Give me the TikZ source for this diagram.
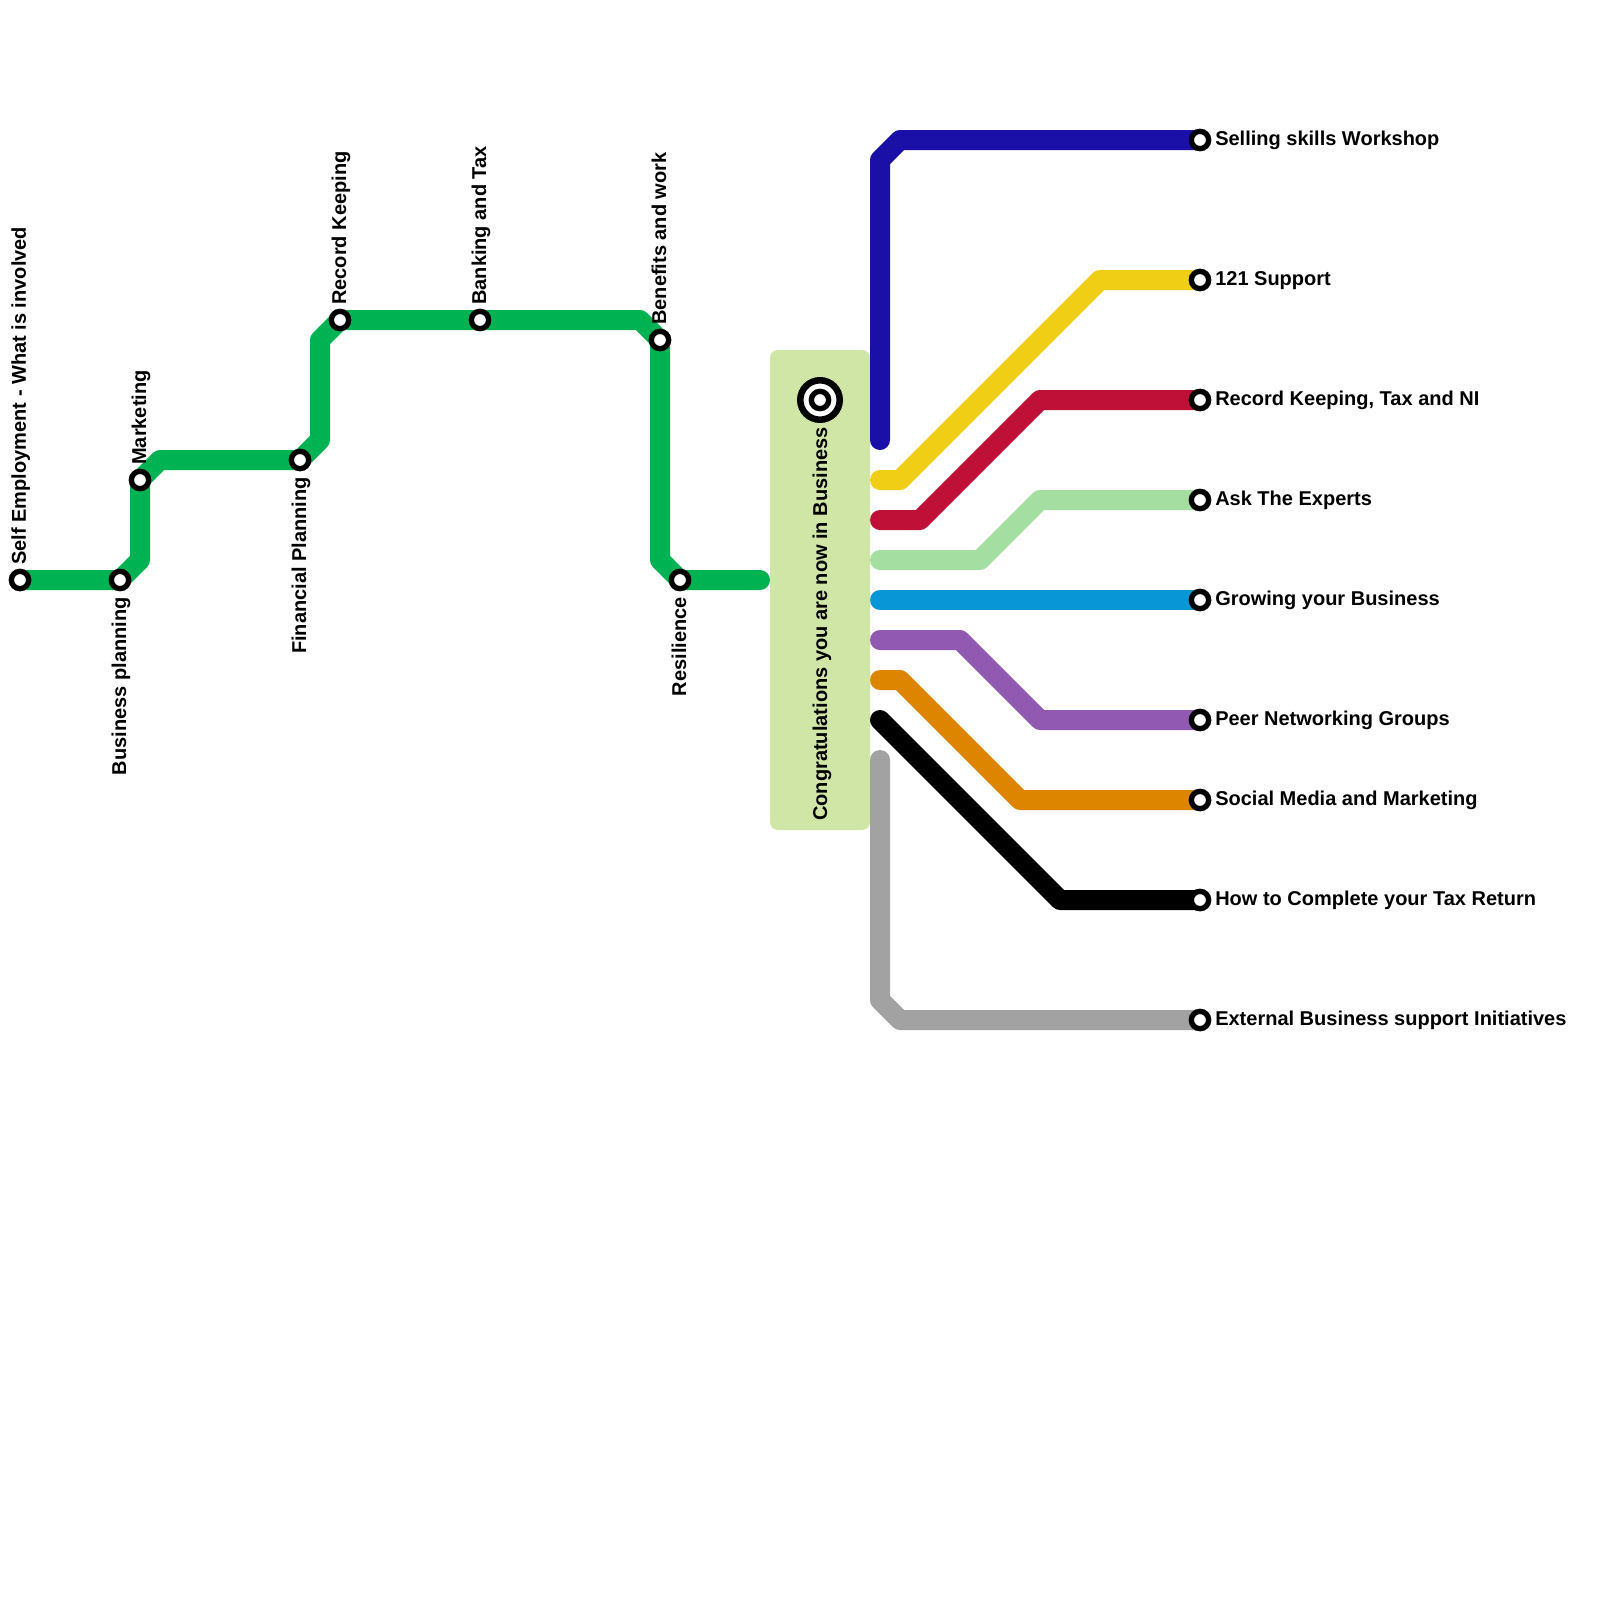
\documentclass[tikz,border=0pt]{standalone}
\usepackage{fontspec}
\setmainfont{Liberation Sans}
\definecolor{lnGreen}{HTML}{00B251}
\definecolor{lnBlue}{HTML}{1A10A8}
\definecolor{lnYellow}{HTML}{F0CE15}
\definecolor{lnRed}{HTML}{BF1038}
\definecolor{lnMint}{HTML}{A5DEA1}
\definecolor{lnCyan}{HTML}{0996D7}
\definecolor{lnPurple}{HTML}{9159B1}
\definecolor{lnOrange}{HTML}{DE8500}
\definecolor{lnGrey}{HTML}{A2A2A2}
\definecolor{boxGreen}{HTML}{D0E6A6}
\begin{document}
\begin{tikzpicture}[x=0.75pt,y=0.75pt,yscale=-1,xscale=1,
		route/.style={line width=15pt, line cap=round, line join=round},
		stn/.style={circle, draw=black, fill=white, line width=4pt, minimum size=13pt, inner sep=0pt},
		lbl/.style={inner sep=0pt, font=\bfseries\fontsize{15}{18}\selectfont}]
				\useasboundingbox (0,0) rectangle (1600,1600);
				% stations
				\coordinate (se) at (20,580);
				\coordinate (bp) at (120,580);
				\coordinate (mk) at (140,480);
				\coordinate (fp) at (300,460);
				\coordinate (rk) at (340,320);
				\coordinate (bt) at (480,320);
				\coordinate (bw) at (660,340);
				\coordinate (rs) at (680,580);
				\coordinate (home) at (820,400);
				\coordinate (sell) at (1200,140);
				\coordinate (sup) at (1200,280);
				\coordinate (rktn) at (1200,400);
				\coordinate (ate) at (1200,500);
				\coordinate (gyb) at (1200,600);
				\coordinate (png) at (1200,720);
				\coordinate (smm) at (1200,800);
				\coordinate (tax) at (1200,900);
				\coordinate (ebs) at (1200,1020);
				% interchange
				\draw  [draw=none, fill=boxGreen, rounded corners=6pt] (770,350) rectangle (870,830) ;
				% lines
				\draw [route, lnGreen]  (se) -- (bp) -- (140,560) -- (mk) -- (160,460) -- (fp) -- (320,440) -- (320,340) -- (rk) -- (bt) -- (640,320) -- (bw) -- (660,560) -- (rs) -- (760,580) ;
				\draw [route, lnBlue]  (880,440) -- (880,160) -- (900,140) -- (sell) ;
				\draw [route, lnYellow]  (880,480) -- (900,480) -- (1100,280) -- (sup) ;
				\draw [route, lnRed]  (880,520) -- (920,520) -- (1040,400) -- (rktn) ;
				\draw [route, lnMint]  (880,560) -- (980,560) -- (1040,500) -- (ate) ;
				\draw [route, lnCyan]  (880,600) -- (gyb) ;
				\draw [route, lnPurple]  (880,640) -- (960,640) -- (1040,720) -- (png) ;
				\draw [route, lnOrange]  (880,680) -- (900,680) -- (1020,800) -- (smm) ;
				\draw [route, black]  (880,720) -- (1060,900) -- (tax) ;
				\draw [route, lnGrey]  (880,760) -- (880,1000) -- (900,1020) -- (ebs) ;
				% station marks
				\foreach \s in {se,bp,mk,fp,rk,bt,bw,rs,sell,sup,rktn,ate,gyb,png,smm,tax,ebs}
					\node [stn] (\s-m) at (\s) {};
				\node [circle, draw=black, fill=white, line width=4.9pt, minimum size=29.6pt, inner sep=0pt] (home-o) at (home) {};
				\node [stn] (home-m) at (home) {};
				% labels
				\draw (26,565) node [lbl, anchor=base west, rotate=90]  (se-t) {Self Employment - What is involved};
				\draw (126,597) node [lbl, anchor=base east, rotate=90]  (bp-t) {Business planning};
				\draw (146,465) node [lbl, anchor=base west, rotate=90]  (mk-t) {Marketing};
				\draw (306,477) node [lbl, anchor=base east, rotate=90]  (fp-t) {Financial Planning};
				\draw (346,305) node [lbl, anchor=base west, rotate=90]  (rk-t) {Record Keeping};
				\draw (486,305) node [lbl, anchor=base west, rotate=90]  (bt-t) {Banking and Tax};
				\draw (666,325) node [lbl, anchor=base west, rotate=90]  (bw-t) {Benefits and work};
				\draw (686,597) node [lbl, anchor=base east, rotate=90]  (rs-t) {Resilience};
				\draw (827,821) node [lbl, anchor=base west, rotate=90]  (home-t) {Congratulations you are now in Business};
				\draw (1215,145) node [lbl, anchor=base west]  (sell-t) {Selling skills Workshop};
				\draw (1215,285) node [lbl, anchor=base west]  (sup-t) {121 Support};
				\draw (1215,405) node [lbl, anchor=base west]  (rktn-t) {Record Keeping, Tax and NI};
				\draw (1215,505) node [lbl, anchor=base west]  (ate-t) {Ask The Experts};
				\draw (1215,605) node [lbl, anchor=base west]  (gyb-t) {Growing your Business};
				\draw (1215,725) node [lbl, anchor=base west]  (png-t) {Peer Networking Groups};
				\draw (1215,805) node [lbl, anchor=base west]  (smm-t) {Social Media and Marketing};
				\draw (1215,905) node [lbl, anchor=base west]  (tax-t) {How to Complete your Tax Return};
				\draw (1215,1025) node [lbl, anchor=base west]  (ebs-t) {External Business support Initiatives};
			\end{tikzpicture}
\end{document}
